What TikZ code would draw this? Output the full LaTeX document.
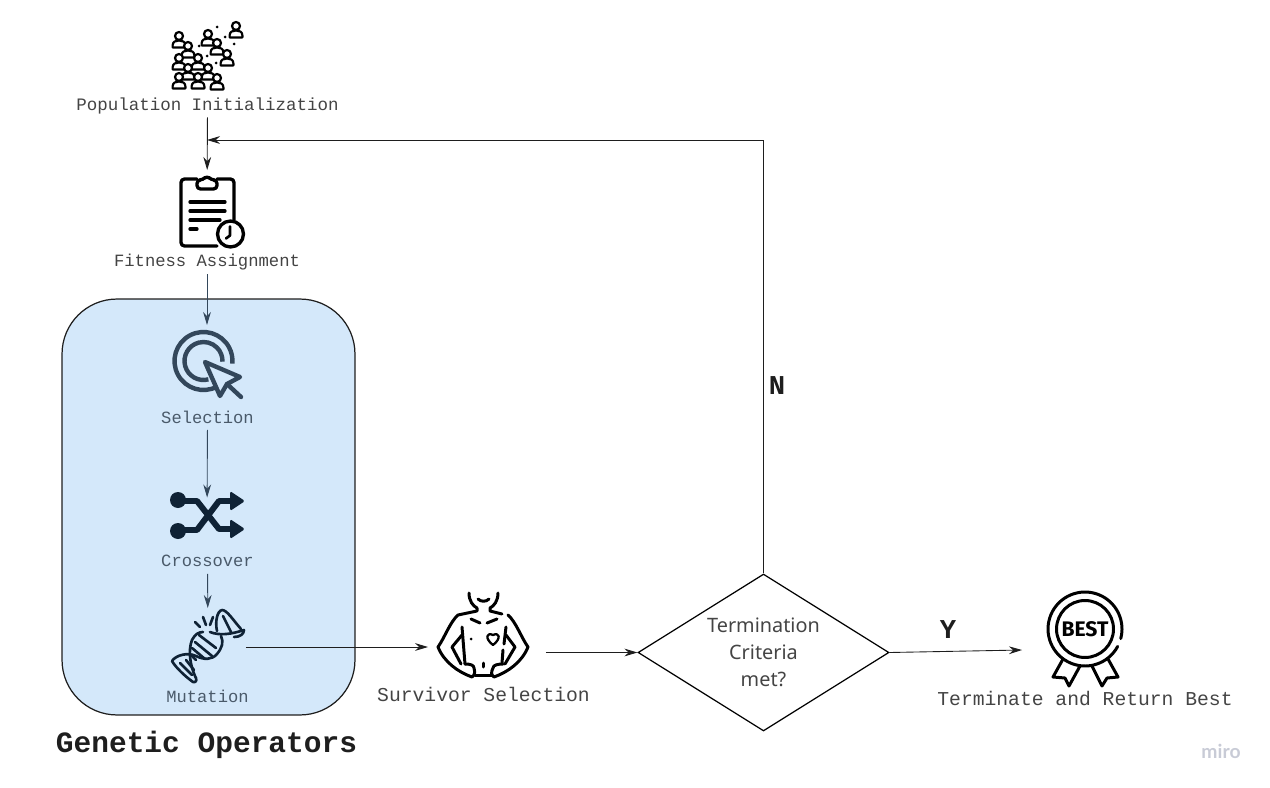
\documentclass[tikz,border=0pt]{standalone}
\usepackage{fontspec}
\setmainfont{Noto Sans}
\setmonofont{Liberation Mono}
\newfontfamily\mirofont{Lato}
\newfontfamily\awardfont{Fira Sans}
\usetikzlibrary{positioning,arrows.meta,calc,shapes.geometric}
\definecolor{opblue}{RGB}{212,232,250}
\definecolor{opnavy}{RGB}{15,34,53}
\definecolor{opslate}{RGB}{51,71,91}
\definecolor{optext}{RGB}{74,90,106}
\definecolor{labelgray}{RGB}{68,68,68}
\definecolor{linkdark}{RGB}{30,30,30}
\definecolor{mirogray}{RGB}{200,203,214}
\tikzset{
  flow/.style={->, line width=0.5pt, draw=linkdark},
  opflow/.style={->, line width=0.5pt, draw=opslate},
  steplabel/.style={inner sep=0pt, minimum height=0.46cm, text=labelgray, font=\ttfamily\fontsize{9.8pt}{12pt}\selectfont},
  oplabel/.style={steplabel, minimum height=0.5cm, text=optext, font=\ttfamily\fontsize{9.75pt}{12pt}\selectfont},
  biglabel/.style={steplabel, font=\ttfamily\fontsize{11.2pt}{13pt}\selectfont},
  answer/.style={inner sep=0pt, text=linkdark, font=\ttfamily\bfseries\fontsize{15.5pt}{16pt}\selectfont},
  iconbox/.style={inner sep=0pt, outer sep=0pt},
  iconline/.style={line width=1.9pt, line cap=round, line join=round},
  person/.pic={
    \draw[line width=1.25pt, fill=white, line join=round] (-6.4,11.5) -- (-6.4,9.5) .. controls (-6.4,5.5) and (-3,4.5) .. (0,4.5) .. controls (3,4.5) and (6.4,5.5) .. (6.4,9.5) -- (6.4,11.5) -- cycle;
    \draw[line width=1.25pt, fill=white] (0,0) circle[radius=0.08cm];
  }
}
\begin{document}
\begin{tikzpicture}[>={Stealth[length=7.4pt,width=4.4pt]}, x=0.02cm, y=-0.02cm]
  \useasboundingbox (0,0) rectangle (1270,787);

  % the operators panel
  \node[draw=linkdark, line width=0.7pt, fill=opblue, rounded corners=1.1cm,
        minimum width=5.86cm, minimum height=8.32cm, inner sep=0pt] (operators) at (208.5,507) {};
  \node[inner sep=0pt, text=linkdark, font=\ttfamily\bfseries\fontsize{16.8pt}{18pt}\selectfont] (operatorstitle) at (206.5,744.5) {Genetic Operators};

  % labels
  \node[steplabel, font=\ttfamily\fontsize{9.95pt}{12pt}\selectfont] (poplabel) at (207.5,105.5) {Population Initialization};
  \node[steplabel] (fitlabel) at (207,262.5) {Fitness Assignment};
  \node[oplabel] (sellabel) at (207.5,417) {Selection};
  \node[oplabel] (crosslabel) at (207.5,561) {Crossover};
  \node[oplabel] (mutlabel) at (207.5,696) {Mutation};
  \node[biglabel] (survlabel) at (483.5,694) {Survivor Selection};
  \node[biglabel] (bestlabel) at (1085,698.5) {Terminate and Return Best};

  % icon places
  \node[iconbox, minimum width=1.3cm, minimum height=1.52cm] (fiticon) at (207,208) {};
  \node[iconbox, minimum width=1.4cm, minimum height=1.6cm] (selicon) at (207,365) {};
  \node[iconbox, minimum width=1.5cm, minimum height=1.1cm] (crossicon) at (207,525) {};
  \node[iconbox, minimum width=1.52cm, minimum height=1.56cm] (muticon) at (208,647) {};
  \node[iconbox, minimum width=2.36cm, minimum height=1.9cm] (survicon) at (487,640) {};
  \node[iconbox, minimum width=2.28cm, minimum height=1.9cm] (besticon) at (1079,650) {};

  \node[draw=black, line width=0.7pt, shape=diamond, aspect=1.6, inner sep=0pt, minimum width=5.02cm, minimum height=3.14cm,
        align=center, text=labelgray, font=\fontsize{11.3pt}{15.4pt}\selectfont] (decision) at (763.5,652.5) {Termination\\Criteria\\met?};

  \coordinate (rejoin) at (207,140);

  \draw[flow] (poplabel) -- (fiticon);
  \draw[flow] (decision.north) -- (decision.north |- rejoin) -- (rejoin);
  \draw[opflow] (fitlabel) -- (selicon);
  \draw[opflow] (sellabel) -- (crossicon);
  \draw[opflow] (crosslabel) -- (muticon);
  \draw[flow] (muticon.east) -- (muticon.east -| survicon.west);
  \draw[flow] (survicon.east |- decision.west) -- (decision.west);
  \draw[flow] (decision.east) -- (besticon.west);

  \node[answer] (nolabel) at (777,386) {N};
  \node[answer] (yeslabel) at (948,630) {Y};
  \node[inner sep=0pt, text=mirogray, font=\mirofont\bfseries\fontsize{11pt}{12pt}\selectfont] (mirolabel) at (1221,751) {miro};

  % crowd
  \foreach \px/\py in {236/26,208/34,179/36,217/43,188/46,227/54,179/58,198/58,188/68,208/68,179/77,198/77,217/78}
    \pic at (\px,\py) {person};
  \foreach \px/\py in {217/27,225/37,234/44,199/46,207/56,216/63}
    \fill (\px,\py) circle[radius=0.03cm];

  % clipboard
  \draw[iconline, rounded corners=2pt] (197,179) -- (181,179) -- (181,246) -- (217,246);
  \draw[iconline, rounded corners=2pt] (217,179) -- (234,179) -- (234,220);
  \draw[iconline, fill=white, rounded corners=2pt] (197,180) -- (197,189) -- (217,189) -- (217,180) -- (211,180) -- (207,175.5) -- (203,180) -- cycle;
  \foreach \ly/\lx in {202/225,211/225,220/220,229/197}
    \draw[iconline] (190,\ly) -- (\lx,\ly);
  \draw[iconline, fill=white] (230.5,234) circle[radius=0.26cm];
  \draw[line width=1.5pt, line cap=round, line join=round] (230,226.5) -- (230,235.5) -- (226,238.5);

  % target and cursor
  \begin{scope}[opslate, line width=2.5pt]
    \draw (203.5,361) ++(-62:0.58cm) arc[start angle=-62, end angle=-365, radius=0.58cm];
    \draw (203.5,361) ++(-75:0.38cm) arc[start angle=-75, end angle=-362, radius=0.38cm];
    \draw[fill=opblue, line join=round] (205,362) -- (240,377) -- (227,384) -- (220,396) -- cycle;
    \draw[line cap=round] (227,384) -- (241,397);
  \end{scope}

  % crossing arrows
  \begin{scope}[opnavy]
    \fill (178,500) circle[radius=0.16cm];
    \fill (178,531) circle[radius=0.16cm];
    \draw[line width=3.4pt, line join=round] (178,501) -- (197,501) -- (219,529) -- (232,529);
    \draw[line width=3.4pt, line join=round] (178,530) -- (197,530) -- (219,501) -- (232,501);
    \fill[rounded corners=1pt] (230,491) -- (245,501) -- (230,511) -- cycle;
    \fill[rounded corners=1pt] (230,519) -- (245,529) -- (230,539) -- cycle;
  \end{scope}

  % dna
  \begin{scope}[opnavy, iconline, line width=1.5pt]
    \draw (172,661) .. controls (176,655) and (188,652) .. (196,656) .. controls (204,660) and (212,660) .. (217,654) .. controls (222,648) and (224,642) .. (221,636);
    \draw (172,661) .. controls (176,668) and (186,677) .. (193,682) .. controls (197,683) and (197,679) .. (195,676) .. controls (190,665) and (188,650) .. (192,640) .. controls (195,634) and (199,632) .. (203,632);
    \draw (210,632) .. controls (220,636) and (232,634) .. (244,630) .. controls (244,634) and (240,637) .. (234,637);
    \draw (217,631) .. controls (215,622) and (217,611) .. (222,610) .. controls (227,610) and (233,620) .. (241,629);
    \foreach \ax/\ay/\bx/\by in {199/635/216/648,195/642/212/656,192/648/205/659,191/655/196/660,180/663/192/675,186/660/194/670,223/616/231/632}
      \draw (\ax,\ay) -- (\bx,\by);
    \draw (195,622) -- (200,627);
    \draw (203,617) -- (206,625);
    \draw (213,617) -- (210,625);
  \end{scope}

  % torso
  \begin{scope}[iconline, line width=1.7pt]
    \draw (469,593) .. controls (469,601) and (473,606) .. (477,608) -- (477,611) -- (458,615) .. controls (450,622) and (445,637) .. (438,647) .. controls (444,662) and (458,672) .. (472,677) .. controls (475,675) and (475,672) .. (474,668) .. controls (474,665) and (470,664) .. (465,664);
    \draw (498,593) .. controls (498,601) and (494,606) .. (490,608) -- (490,611) -- (502,614);
    \draw (508,615) .. controls (516,622) and (521,637) .. (528,647) .. controls (522,662) and (508,672) .. (494,677) .. controls (491,675) and (491,672) .. (493,668) .. controls (493,665) and (498,664) .. (503,664);
    \draw (478,599) .. controls (481,602) and (486,602) .. (489,599);
    \draw (475,675) -- (492,675);
    \draw (462,627) -- (465,664);
    \draw (462,635) -- (452,647) -- (461,664);
    \draw (506,627) -- (504,644);
    \draw (503,650) -- (502,663);
    \draw (506,635) -- (515,647) -- (505,664);
    \draw (471,619) -- (480,623);
    \draw (487,623) -- (497,619);
    \draw (483,663) -- (483,667);
    \fill (471,639) circle[radius=0.03cm];
    \draw[line width=1.3pt] (493,645) .. controls (484,638) and (487,632) .. (493,635) .. controls (499,632) and (502,638) .. (493,645);
  \end{scope}

  % award
  \begin{scope}[iconline, line width=1.7pt]
    \draw (1085,629) ++(-28:0.74cm) arc[start angle=-28, end angle=-375, radius=0.74cm];
    \draw (1085,629) circle[radius=0.57cm];
    \draw (1063,659) -- (1053,677) -- (1065,678) -- (1069,686) -- (1080,666);
    \draw (1092,666) -- (1102,686) -- (1107,678) -- (1118,677) -- (1108,659);
    \node[inner sep=0pt, text=black, font=\awardfont\bfseries\fontsize{12pt}{13pt}\selectfont] (bestword) at (1085,629) {BEST};
  \end{scope}
\end{tikzpicture}
\end{document}
